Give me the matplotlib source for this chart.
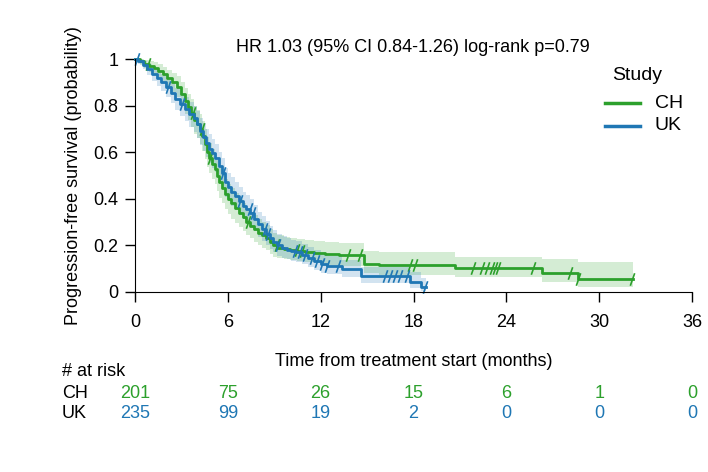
import matplotlib.pyplot as plt
import numpy as np
from matplotlib.path import Path
from matplotlib.lines import Line2D
from matplotlib.transforms import blended_transform_factory

plt.rcParams['font.family'] = ['Liberation Sans', 'DejaVu Sans']
plt.rcParams['font.size'] = 13

# Kaplan-Meier estimates (months, survival, 95% CI)
ch_time = [0, 0.3, 0.6, 0.9, 1.2, 1.5, 1.8, 2.1, 2.4, 2.7,
           3.0, 3.2, 3.4, 3.6, 3.8, 4.0, 4.2, 4.35, 4.5, 4.65,
           4.8, 5.0, 5.15, 5.3, 5.45, 5.6, 5.8, 6.0, 6.2, 6.45,
           6.7, 6.95, 7.2, 7.45, 7.7, 7.95, 8.2, 8.45, 8.7, 8.95,
           9.2, 9.6, 10.0, 10.5, 11.0, 11.6, 12.3, 13.2, 14.8, 15.8,
           20.7, 26.3, 28.6]
ch_surv = [1.0, 0.99, 0.98, 0.97, 0.962, 0.95, 0.935, 0.918, 0.90, 0.88,
           0.85, 0.82, 0.795, 0.77, 0.74, 0.72, 0.70, 0.67, 0.635, 0.60,
           0.575, 0.55, 0.53, 0.50, 0.47, 0.445, 0.42, 0.40, 0.38, 0.36,
           0.34, 0.32, 0.30, 0.285, 0.27, 0.255, 0.245, 0.232, 0.215, 0.2,
           0.19, 0.184, 0.18, 0.176, 0.172, 0.168, 0.163, 0.158, 0.122, 0.117,
           0.103, 0.083, 0.054]
ch_lower = [1.0, 0.975, 0.96, 0.945, 0.935, 0.92, 0.9, 0.88, 0.86, 0.835,
            0.8, 0.765, 0.74, 0.71, 0.68, 0.66, 0.635, 0.605, 0.57, 0.535,
            0.51, 0.485, 0.465, 0.435, 0.405, 0.38, 0.355, 0.335, 0.315, 0.295,
            0.28, 0.26, 0.245, 0.23, 0.215, 0.2, 0.19, 0.18, 0.165, 0.152,
            0.145, 0.14, 0.136, 0.132, 0.127, 0.123, 0.118, 0.112, 0.08, 0.075,
            0.066, 0.045, 0.022]
ch_upper = [1.0, 1.0, 0.995, 0.99, 0.985, 0.978, 0.965, 0.952, 0.94, 0.925,
            0.9, 0.875, 0.85, 0.83, 0.80, 0.78, 0.765, 0.735, 0.70, 0.665,
            0.64, 0.615, 0.595, 0.565, 0.535, 0.51, 0.485, 0.465, 0.445, 0.425,
            0.40, 0.38, 0.36, 0.345, 0.33, 0.315, 0.30, 0.288, 0.27, 0.255,
            0.245, 0.238, 0.233, 0.229, 0.225, 0.22, 0.215, 0.21, 0.175, 0.17,
            0.152, 0.142, 0.13]
ch_end = 32.2
ch_censor = [0.84, 3.75, 4.33, 4.85, 7.30, 9.18, 10.47, 10.79, 13.77, 14.54, 17.77,
             18.10, 21.85, 22.43, 22.75, 23.07, 23.27, 23.46, 25.72, 28.11, 28.63,
             32.12]

uk_time = [0, 0.2, 0.5, 0.8, 1.1, 1.4, 1.7, 2.0, 2.3, 2.6,
           2.9, 3.2, 3.5, 3.8, 4.0, 4.2, 4.4, 4.6, 4.8, 5.0,
           5.2, 5.4, 5.6, 5.8, 6.0, 6.2, 6.45, 6.7, 6.95, 7.2,
           7.45, 7.7, 7.95, 8.2, 8.45, 8.7, 8.95, 9.2, 9.5, 9.8,
           10.1, 10.4, 10.8, 11.2, 11.6, 12.0, 12.4, 13.4, 14.6, 17.8,
           18.5]
uk_surv = [1.0, 0.99, 0.975, 0.955, 0.935, 0.918, 0.90, 0.878, 0.855, 0.83,
           0.805, 0.785, 0.765, 0.745, 0.72, 0.69, 0.665, 0.64, 0.615, 0.595,
           0.575, 0.54, 0.51, 0.47, 0.45, 0.43, 0.41, 0.39, 0.37, 0.355,
           0.34, 0.315, 0.29, 0.27, 0.25, 0.23, 0.215, 0.20, 0.19, 0.182,
           0.175, 0.17, 0.16, 0.148, 0.135, 0.12, 0.113, 0.097, 0.07, 0.045,
           0.022]
uk_lower = [1.0, 0.978, 0.955, 0.93, 0.905, 0.885, 0.862, 0.835, 0.81, 0.782,
            0.755, 0.732, 0.71, 0.688, 0.662, 0.63, 0.605, 0.58, 0.555, 0.533,
            0.513, 0.478, 0.448, 0.408, 0.39, 0.37, 0.35, 0.332, 0.313, 0.3,
            0.285, 0.262, 0.238, 0.22, 0.2, 0.183, 0.17, 0.156, 0.147, 0.14,
            0.133, 0.128, 0.119, 0.108, 0.096, 0.083, 0.077, 0.063, 0.04, 0.018,
            0.005]
uk_upper = [1.0, 1.0, 0.99, 0.978, 0.962, 0.948, 0.935, 0.918, 0.897, 0.875,
            0.852, 0.835, 0.817, 0.8, 0.777, 0.748, 0.725, 0.70, 0.677, 0.657,
            0.637, 0.603, 0.573, 0.533, 0.512, 0.492, 0.472, 0.452, 0.43, 0.415,
            0.4, 0.372, 0.345, 0.325, 0.303, 0.282, 0.266, 0.25, 0.24, 0.231,
            0.223, 0.218, 0.207, 0.194, 0.18, 0.163, 0.155, 0.137, 0.108, 0.085,
            0.06]
uk_end = 18.8
uk_censor = [0.15, 2.13, 3.04, 5.69, 6.79, 7.43, 7.63, 8.40, 8.60, 9.24, 10.34, 10.66,
             10.99, 11.44, 11.76, 12.09, 12.41, 13.12, 16.16, 16.48, 16.80, 17.12,
             17.58, 18.74]

months = [0, 6, 12, 18, 24, 30, 36]
ch_at_risk = [201, 75, 26, 15, 6, 1, 0]
uk_at_risk = [235, 99, 19, 2, 0, 0, 0]

green = '#2ca02c'
blue = '#1f77b4'

# censoring tick: a short slash
slash = Path([(-0.35, -1), (0.35, 1)], [Path.MOVETO, Path.LINETO])


def draw_km(ax, time, surv, lower, upper, end, censor, color):
    t = np.append(time, end)
    s = np.append(surv, surv[-1])
    lo = np.append(lower, lower[-1])
    hi = np.append(upper, upper[-1])
    ax.fill_between(t, lo, hi, step='post', color=color, alpha=0.2, lw=0)
    ax.plot(t, s, drawstyle='steps-post', color=color, lw=2, clip_on=False)
    idx = np.searchsorted(time, censor, side='right') - 1
    ax.plot(censor, np.array(surv)[idx], ls='none', marker=slash, ms=9, mew=1.2,
            color=color, clip_on=False)


fig = plt.figure(figsize=(7.08, 4.72), dpi=100)
ax = fig.add_axes([135 / 708, 1 - 292 / 472, 557 / 708, 233 / 472])

draw_km(ax, ch_time, ch_surv, ch_lower, ch_upper, ch_end, ch_censor, green)
draw_km(ax, uk_time, uk_surv, uk_lower, uk_upper, uk_end, uk_censor, blue)

ax.set_xlim(0, 36)
ax.set_ylim(0, 1)
ax.set_xticks(months)
ax.set_yticks([0, 0.2, 0.4, 0.6, 0.8, 1])
ax.set_yticklabels(['0', '0.2', '0.4', '0.6', '0.8', '1'])
ax.tick_params(direction='out', length=7, width=1)
ax.tick_params(axis='x', pad=9)
ax.tick_params(axis='y', pad=5)
for side in ['top', 'right']:
    ax.spines[side].set_visible(False)
ax.set_ylabel('Progression-free survival (probability)', labelpad=8)
ax.set_xlabel('Time from treatment start (months)', labelpad=16)

fig.text(413 / 708, 1 - 48 / 472, 'HR 1.03 (95% CI 0.84-1.26) log-rank p=0.79',
         ha='center', va='center')

# legend drawn by hand to match its spacing
fig.text(637 / 708, 1 - 75 / 472, 'Study', ha='center', va='center', fontsize=14)
for y, lab, col in [(103, 'CH', green), (126, 'UK', blue)]:
    fig.add_artist(Line2D([605 / 708, 640 / 708], [1 - y / 472] * 2, color=col,
                          lw=2.5, transform=fig.transFigure))
    fig.text(655 / 708, 1 - y / 472, lab, ha='left', va='center', fontsize=14)

# number at risk table
tr = blended_transform_factory(ax.transData, fig.transFigure)
fig.text(62 / 708, 1 - 372 / 472, '# at risk', ha='left', va='center')
fig.text(62 / 708, 1 - 393 / 472, 'CH', ha='left', va='center')
fig.text(62 / 708, 1 - 414 / 472, 'UK', ha='left', va='center')
for m, a, b in zip(months, ch_at_risk, uk_at_risk):
    ax.text(m, 1 - 393 / 472, str(a), transform=tr, ha='center', va='center',
            color=green)
    ax.text(m, 1 - 414 / 472, str(b), transform=tr, ha='center', va='center',
            color=blue)

fig.savefig('out.png', dpi=100)
